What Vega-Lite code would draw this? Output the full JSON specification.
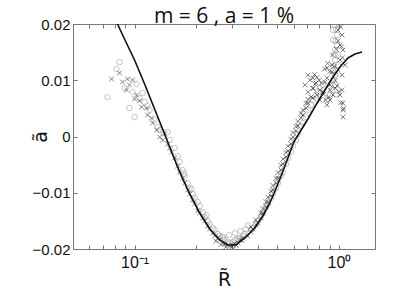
{
  "$schema": "https://vega.github.io/schema/vega-lite/v6.json",
  "width": 302,
  "height": 225,
  "autosize": "none",
  "padding": {"left": 73, "top": 24, "right": 24, "bottom": 48},
  "background": "white",
  "title": {"text": "m = 6 , a = 1 %", "font": "Open Sans", "fontSize": 21, "fontWeight": "normal", "color": "#111", "offset": -10, "anchor": "middle"},
  "config": {
    "view": {"stroke": null},
    "axis": {"domainColor": "#777", "tickColor": "#777", "labelColor": "#111", "titleColor": "#111", "labelFont": "Liberation Sans", "titleFont": "DejaVu Sans", "labelFontSize": 15, "titleFontSize": 19, "titleFontWeight": "normal", "grid": false, "tickSize": -4, "labelOverlap": false}
  },
  "datasets": {
    "curve": [
      {"R": 0.0825, "a": 0.0200}, {"R": 0.0893, "a": 0.01733}, {"R": 0.1, "a": 0.0136}, {"R": 0.112, "a": 0.00933},
      {"R": 0.1253, "a": 0.00489}, {"R": 0.1403, "a": 0.00044}, {"R": 0.1518, "a": -0.00276}, {"R": 0.1662, "a": -0.00631},
      {"R": 0.1861, "a": -0.01022}, {"R": 0.2083, "a": -0.0136}, {"R": 0.2332, "a": -0.01644}, {"R": 0.261, "a": -0.0184},
      {"R": 0.2857, "a": -0.01929}, {"R": 0.3127, "a": -0.01929}, {"R": 0.3461, "a": -0.01804}, {"R": 0.3875, "a": -0.01627},
      {"R": 0.4241, "a": -0.01413}, {"R": 0.459, "a": -0.01182}, {"R": 0.4911, "a": -0.00933}, {"R": 0.5255, "a": -0.00667},
      {"R": 0.5623, "a": -0.00382}, {"R": 0.6017, "a": -0.00098}, {"R": 0.6439, "a": 0.0008}, {"R": 0.7047, "a": 0.00311},
      {"R": 0.7712, "a": 0.0056}, {"R": 0.8538, "a": 0.00827}, {"R": 0.9346, "a": 0.01058}, {"R": 1.0113, "a": 0.01236},
      {"R": 1.1069, "a": 0.01396}, {"R": 1.198, "a": 0.01467}, {"R": 1.296, "a": 0.01502}
    ],
    "pts": [
      {"R": 0.0844, "a": 0.01324, "s": "o"}, {"R": 0.0816, "a": 0.012, "s": "o"}, {"R": 0.0737, "a": 0.00702, "s": "o"},
      {"R": 0.0945, "a": 0.00507, "s": "o"}, {"R": 0.1, "a": 0.00347, "s": "o"}, {"R": 0.1023, "a": 0.00933, "s": "o"},
      {"R": 0.1094, "a": 0.00773, "s": "o"}, {"R": 0.1058, "a": 0.00684, "s": "o"}, {"R": 0.0893, "a": 0.00862, "s": "o"},
      {"R": 0.1119, "a": 0.00613, "s": "o"}, {"R": 0.1184, "a": 0.00471, "s": "o"}, {"R": 0.1253, "a": 0.00293, "s": "o"},
      {"R": 0.1297, "a": 0.00169, "s": "o"}, {"R": 0.1158, "a": 0.00542, "s": "o"}, {"R": 0.0978, "a": 0.00791, "s": "o"},
      {"R": 0.1327, "a": 0.00116, "s": "o"}, {"R": 0.1372, "a": 0.0008, "s": "o"},
      {"R": 0.1452, "a": 0.0008, "s": "o"}, {"R": 0.1485, "a": -0.00062, "s": "o"}, {"R": 0.1571, "a": -0.00204, "s": "o"},
      {"R": 0.1625, "a": -0.00347, "s": "o"}, {"R": 0.1662, "a": -0.00453, "s": "o"}, {"R": 0.1719, "a": -0.00596, "s": "o"},
      {"R": 0.1758, "a": -0.00702, "s": "o"}, {"R": 0.1819, "a": -0.00827, "s": "o"}, {"R": 0.186, "a": -0.00916, "s": "o"},
      {"R": 0.1924, "a": -0.01022, "s": "o"}, {"R": 0.1967, "a": -0.01093, "s": "o"}, {"R": 0.2035, "a": -0.01164, "s": "o"},
      {"R": 0.2083, "a": -0.01236, "s": "o"}, {"R": 0.2154, "a": -0.01342, "s": "o"}, {"R": 0.2203, "a": -0.01431, "s": "o"},
      {"R": 0.2279, "a": -0.01502, "s": "o"}, {"R": 0.2331, "a": -0.01556, "s": "o"}, {"R": 0.2412, "a": -0.01627, "s": "o"},
      {"R": 0.2467, "a": -0.01662, "s": "o"}, {"R": 0.2552, "a": -0.01733, "s": "o"}, {"R": 0.261, "a": -0.01769, "s": "o"},
      {"R": 0.27, "a": -0.01804, "s": "o"}, {"R": 0.2762, "a": -0.0184, "s": "o"}, {"R": 0.2857, "a": -0.01876, "s": "o"},
      {"R": 0.2922, "a": -0.01893, "s": "o"}, {"R": 0.3022, "a": -0.01876, "s": "o"}, {"R": 0.3091, "a": -0.0184, "s": "o"},
      {"R": 0.3197, "a": -0.01822, "s": "o"}, {"R": 0.327, "a": -0.01804, "s": "o"}, {"R": 0.3383, "a": -0.01769, "s": "o"},
      {"R": 0.346, "a": -0.01733, "s": "o"},
      {"R": 0.29, "a": -0.0175, "s": "o"}, {"R": 0.31, "a": -0.0172, "s": "o"}, {"R": 0.33, "a": -0.0168, "s": "o"},
      {"R": 0.35, "a": -0.0165, "s": "o"}, {"R": 0.27, "a": -0.0178, "s": "o"}, {"R": 0.36, "a": -0.0158, "s": "o"},
      {"R": 0.225, "a": -0.014, "s": "o"}, {"R": 0.19, "a": -0.0093, "s": "o"}, {"R": 0.175, "a": -0.0066, "s": "o"},
      {"R": 0.3704, "a": -0.01662, "s": "o"}, {"R": 0.3789, "a": -0.01627, "s": "o"}, {"R": 0.392, "a": -0.01556, "s": "o"},
      {"R": 0.401, "a": -0.01502, "s": "o"}, {"R": 0.4147, "a": -0.01431, "s": "o"}, {"R": 0.4244, "a": -0.0136, "s": "o"},
      {"R": 0.4389, "a": -0.01253, "s": "o"}, {"R": 0.449, "a": -0.012, "s": "o"}, {"R": 0.4644, "a": -0.01093, "s": "o"},
      {"R": 0.4751, "a": -0.01022, "s": "o"}, {"R": 0.4914, "a": -0.00916, "s": "o"}, {"R": 0.5027, "a": -0.00827, "s": "o"},
      {"R": 0.52, "a": -0.00702, "s": "o"}, {"R": 0.5319, "a": -0.00631, "s": "o"}, {"R": 0.5502, "a": -0.00489, "s": "o"},
      {"R": 0.5628, "a": -0.00382, "s": "o"}, {"R": 0.582, "a": -0.00276, "s": "o"}, {"R": 0.5953, "a": -0.00169, "s": "o"},
      {"R": 0.6158, "a": -0.00062, "s": "o"}, {"R": 0.6299, "a": 0.00044, "s": "o"}, {"R": 0.6515, "a": 0.00187, "s": "o"},
      {"R": 0.6664, "a": 0.0024, "s": "o"}, {"R": 0.6894, "a": 0.00347, "s": "o"}, {"R": 0.7051, "a": 0.00471, "s": "o"},
      {"R": 0.7294, "a": 0.0056, "s": "o"}, {"R": 0.746, "a": 0.00649, "s": "o"}, {"R": 0.7717, "a": 0.00738, "s": "o"},
      {"R": 0.7893, "a": 0.00791, "s": "o"}, {"R": 0.8074, "a": 0.00862, "s": "o"}, {"R": 0.8351, "a": 0.00916, "s": "o"},
      {"R": 0.9346, "a": 0.01893, "s": "o"}, {"R": 0.9346, "a": 0.01716, "s": "o"}, {"R": 0.9559, "a": 0.01982, "s": "o"},
      {"R": 0.9559, "a": 0.01538, "s": "o"}, {"R": 0.9559, "a": 0.0136, "s": "o"}, {"R": 0.9777, "a": 0.01804, "s": "o"},
      {"R": 0.9346, "a": 0.01182, "s": "o"}, {"R": 0.9346, "a": 0.01004, "s": "o"}, {"R": 0.924, "a": 0.00827, "s": "o"},
      {"R": 0.9777, "a": 0.01627, "s": "o"}, {"R": 0.9888, "a": 0.01449, "s": "o"}, {"R": 0.8733, "a": 0.00649, "s": "o"},
      {"R": 0.9559, "a": 0.00916, "s": "o"}, {"R": 0.9034, "a": 0.00738, "s": "o"}, {"R": 0.9888, "a": 0.01271, "s": "o"},
      {"R": 0.9559, "a": 0.01093, "s": "o"},
      {"R": 0.96, "a": 0.017, "s": "o"}, {"R": 0.97, "a": 0.019, "s": "o"}, {"R": 0.95, "a": 0.0145, "s": "o"},
      {"R": 0.94, "a": 0.0125, "s": "o"}, {"R": 0.96, "a": 0.011, "s": "o"}, {"R": 0.92, "a": 0.0095, "s": "o"},
      {"R": 0.97, "a": 0.0075, "s": "o"}, {"R": 0.99, "a": 0.02, "s": "o"},
      {"R": 0.0772, "a": 0.01022, "s": "x"}, {"R": 0.0844, "a": 0.01129, "s": "x"}, {"R": 0.0924, "a": 0.01022, "s": "x"},
      {"R": 0.0873, "a": 0.00969, "s": "x"}, {"R": 0.0914, "a": 0.00827, "s": "x"}, {"R": 0.1023, "a": 0.00738, "s": "x"},
      {"R": 0.1, "a": 0.00667, "s": "x"}, {"R": 0.1145, "a": 0.00507, "s": "x"}, {"R": 0.1082, "a": 0.00524, "s": "x"},
      {"R": 0.1158, "a": 0.00382, "s": "x"}, {"R": 0.1211, "a": 0.00329, "s": "x"}, {"R": 0.1225, "a": 0.0024, "s": "x"},
      {"R": 0.1282, "a": 0.00116, "s": "x"}, {"R": 0.1327, "a": -0.00009, "s": "x"}, {"R": 0.1372, "a": -0.00062, "s": "x"},
      {"R": 0.0945, "a": 0.00916, "s": "x"}, {"R": 0.1058, "a": 0.00631, "s": "x"}, {"R": 0.0978, "a": 0.01004, "s": "x"},
      {"R": 0.1403, "a": 0.00044, "s": "x"}, {"R": 0.1452, "a": -0.00133, "s": "x"}, {"R": 0.1485, "a": -0.00204, "s": "x"},
      {"R": 0.1519, "a": -0.00276, "s": "x"}, {"R": 0.1571, "a": -0.00382, "s": "x"}, {"R": 0.1625, "a": -0.00524, "s": "x"},
      {"R": 0.1662, "a": -0.00631, "s": "x"}, {"R": 0.1719, "a": -0.00738, "s": "x"}, {"R": 0.1758, "a": -0.00827, "s": "x"},
      {"R": 0.1819, "a": -0.00951, "s": "x"}, {"R": 0.186, "a": -0.01022, "s": "x"}, {"R": 0.1924, "a": -0.01129, "s": "x"},
      {"R": 0.1967, "a": -0.012, "s": "x"}, {"R": 0.2035, "a": -0.01324, "s": "x"}, {"R": 0.2083, "a": -0.0136, "s": "x"},
      {"R": 0.2154, "a": -0.01449, "s": "x"}, {"R": 0.2203, "a": -0.01502, "s": "x"}, {"R": 0.2279, "a": -0.01591, "s": "x"},
      {"R": 0.2331, "a": -0.01644, "s": "x"}, {"R": 0.2412, "a": -0.01716, "s": "x"}, {"R": 0.2467, "a": -0.01769, "s": "x"},
      {"R": 0.2552, "a": -0.01804, "s": "x"}, {"R": 0.261, "a": -0.0184, "s": "x"}, {"R": 0.27, "a": -0.01893, "s": "x"},
      {"R": 0.2762, "a": -0.01911, "s": "x"}, {"R": 0.2857, "a": -0.01929, "s": "x"}, {"R": 0.2922, "a": -0.01947, "s": "x"},
      {"R": 0.3022, "a": -0.01929, "s": "x"}, {"R": 0.3091, "a": -0.01911, "s": "x"}, {"R": 0.3197, "a": -0.01893, "s": "x"},
      {"R": 0.327, "a": -0.0184, "s": "x"}, {"R": 0.3383, "a": -0.01804, "s": "x"},
      {"R": 0.25, "a": -0.0186, "s": "x"}, {"R": 0.265, "a": -0.0192, "s": "x"}, {"R": 0.28, "a": -0.0196, "s": "x"},
      {"R": 0.3, "a": -0.0196, "s": "x"}, {"R": 0.315, "a": -0.0194, "s": "x"}, {"R": 0.335, "a": -0.0185, "s": "x"},
      {"R": 0.3581, "a": -0.01769, "s": "x"}, {"R": 0.3704, "a": -0.01698, "s": "x"}, {"R": 0.3789, "a": -0.01644, "s": "x"},
      {"R": 0.392, "a": -0.01573, "s": "x"}, {"R": 0.401, "a": -0.01538, "s": "x"}, {"R": 0.4147, "a": -0.01449, "s": "x"},
      {"R": 0.4244, "a": -0.0136, "s": "x"}, {"R": 0.4389, "a": -0.01253, "s": "x"}, {"R": 0.449, "a": -0.01164, "s": "x"},
      {"R": 0.4644, "a": -0.01058, "s": "x"}, {"R": 0.4751, "a": -0.00951, "s": "x"}, {"R": 0.4914, "a": -0.00827, "s": "x"},
      {"R": 0.5027, "a": -0.00738, "s": "x"}, {"R": 0.52, "a": -0.00596, "s": "x"}, {"R": 0.5319, "a": -0.00489, "s": "x"},
      {"R": 0.5502, "a": -0.00364, "s": "x"}, {"R": 0.5628, "a": -0.00258, "s": "x"}, {"R": 0.582, "a": -0.00133, "s": "x"},
      {"R": 0.5953, "a": -0.00009, "s": "x"}, {"R": 0.6158, "a": 0.00098, "s": "x"}, {"R": 0.6299, "a": 0.00187, "s": "x"},
      {"R": 0.6515, "a": 0.00329, "s": "x"}, {"R": 0.6664, "a": 0.00382, "s": "x"}, {"R": 0.6894, "a": 0.00507, "s": "x"},
      {"R": 0.7051, "a": 0.00596, "s": "x"},
      {"R": 0.3704, "a": -0.0161, "s": "x"}, {"R": 0.392, "a": -0.0148, "s": "x"}, {"R": 0.4147, "a": -0.0136, "s": "x"},
      {"R": 0.4389, "a": -0.0116, "s": "x"}, {"R": 0.4644, "a": -0.0097, "s": "x"}, {"R": 0.4914, "a": -0.0074, "s": "x"},
      {"R": 0.52, "a": -0.0051, "s": "x"}, {"R": 0.5502, "a": -0.0028, "s": "x"}, {"R": 0.582, "a": -0.0005, "s": "x"},
      {"R": 0.6158, "a": 0.0018, "s": "x"}, {"R": 0.6515, "a": 0.0041, "s": "x"}, {"R": 0.6894, "a": 0.0059, "s": "x"},
      {"R": 0.7294, "a": 0.007, "s": "x"}, {"R": 0.746, "a": 0.0085, "s": "x"}, {"R": 0.7717, "a": 0.0095, "s": "x"},
      {"R": 0.7051, "a": 0.0066, "s": "x"}, {"R": 0.6664, "a": 0.0047, "s": "x"}, {"R": 0.6299, "a": 0.0027, "s": "x"},
      {"R": 0.5953, "a": 0.0007, "s": "x"}, {"R": 0.5628, "a": -0.0017, "s": "x"}, {"R": 0.5319, "a": -0.004, "s": "x"},
      {"R": 0.5027, "a": -0.0064, "s": "x"}, {"R": 0.4751, "a": -0.0087, "s": "x"}, {"R": 0.449, "a": -0.0108, "s": "x"},
      {"R": 0.4244, "a": -0.0128, "s": "x"},
      {"R": 0.6813, "a": 0.00916, "s": "x"}, {"R": 0.7047, "a": 0.01093, "s": "x"}, {"R": 0.7208, "a": 0.01004, "s": "x"},
      {"R": 0.7047, "a": 0.00791, "s": "x"}, {"R": 0.7456, "a": 0.00862, "s": "x"}, {"R": 0.7456, "a": 0.0104, "s": "x"},
      {"R": 0.7626, "a": 0.00933, "s": "x"}, {"R": 0.7801, "a": 0.00738, "s": "x"}, {"R": 0.8069, "a": 0.00649, "s": "x"},
      {"R": 0.7456, "a": 0.00684, "s": "x"}, {"R": 0.8347, "a": 0.00791, "s": "x"}, {"R": 0.8733, "a": 0.01218, "s": "x"},
      {"R": 0.8733, "a": 0.0104, "s": "x"}, {"R": 0.9034, "a": 0.00827, "s": "x"}, {"R": 0.9034, "a": 0.00649, "s": "x"},
      {"R": 0.924, "a": 0.01147, "s": "x"}, {"R": 0.924, "a": 0.01271, "s": "x"}, {"R": 0.8733, "a": 0.0056, "s": "x"},
      {"R": 0.9346, "a": 0.00738, "s": "x"}, {"R": 0.9559, "a": 0.00862, "s": "x"}, {"R": 0.9888, "a": 0.01893, "s": "x"},
      {"R": 1.0113, "a": 0.01627, "s": "x"}, {"R": 1.0113, "a": 0.0136, "s": "x"}, {"R": 1.0344, "a": 0.01093, "s": "x"},
      {"R": 1.0344, "a": 0.01804, "s": "x"}, {"R": 1.0344, "a": 0.00827, "s": "x"}, {"R": 1.0462, "a": 0.01538, "s": "x"},
      {"R": 1.0462, "a": 0.00596, "s": "x"}, {"R": 1.0462, "a": 0.00471, "s": "x"}, {"R": 1.0462, "a": 0.00347, "s": "x"},
      {"R": 1.0113, "a": 0.00738, "s": "x"}, {"R": 0.9888, "a": 0.01182, "s": "x"}, {"R": 1.07, "a": 0.01271, "s": "x"},
      {"R": 0.9034, "a": 0.00916, "s": "x"}, {"R": 0.8538, "a": 0.00969, "s": "x"}, {"R": 0.8069, "a": 0.00827, "s": "x"},
      {"R": 0.93, "a": 0.0145, "s": "x"}, {"R": 0.95, "a": 0.0125, "s": "x"}, {"R": 0.97, "a": 0.0155, "s": "x"},
      {"R": 0.99, "a": 0.017, "s": "x"}, {"R": 1.02, "a": 0.0195, "s": "x"}, {"R": 1.03, "a": 0.016, "s": "x"},
      {"R": 1.04, "a": 0.014, "s": "x"}, {"R": 0.96, "a": 0.01, "s": "x"}, {"R": 0.98, "a": 0.009, "s": "x"},
      {"R": 1.0, "a": 0.008, "s": "x"}, {"R": 1.02, "a": 0.006, "s": "x"}, {"R": 1.05, "a": 0.005, "s": "x"},
      {"R": 0.78, "a": 0.0105, "s": "x"}, {"R": 0.8, "a": 0.01, "s": "x"}, {"R": 0.82, "a": 0.0095, "s": "x"},
      {"R": 0.76, "a": 0.011, "s": "x"}, {"R": 0.85, "a": 0.012, "s": "x"}, {"R": 0.88, "a": 0.013, "s": "x"},
      {"R": 0.9, "a": 0.0115, "s": "x"}, {"R": 0.84, "a": 0.0075, "s": "x"}, {"R": 0.86, "a": 0.0065, "s": "x"},
      {"R": 0.89, "a": 0.007, "s": "x"}
    ]
  },
  "layer": [
    {
      "data": {"name": "pts"},
      "mark": {"type": "point", "filled": false, "strokeWidth": 0.8, "clip": true},
      "encoding": {
        "x": {"field": "R", "type": "quantitative", "scale": {"type": "log", "domain": [0.05, 1.5], "nice": false},
          "axis": {"orient": "bottom", "title": "R̃", "titlePadding": 0, "labelPadding": 9, "values": [0.05, 0.06, 0.07, 0.08, 0.09, 0.1, 0.2, 0.3, 0.4, 0.5, 0.6, 0.7, 0.8, 0.9, 1],
            "labelExpr": "datum.value == 0.1 ? '10⁻¹' : (datum.value == 1 ? '10⁰' : '')", "labelFontSize": 16}},
        "y": {"field": "a", "type": "quantitative", "scale": {"domain": [-0.02, 0.02], "nice": false, "zero": false},
          "axis": {"orient": "left", "title": "ã", "titleAngle": 270, "titlePadding": -18, "labelPadding": 7, "values": [-0.02, -0.01, 0, 0.01, 0.02], "format": "~g"}},
        "shape": {"field": "s", "type": "nominal", "scale": {"domain": ["o", "x"], "range": ["circle", "M-1,-1L1,1M-1,1L1,-1"]}, "legend": null},
        "size": {"field": "s", "type": "nominal", "scale": {"domain": ["o", "x"], "range": [30, 22]}, "legend": null},
        "stroke": {"field": "s", "type": "nominal", "scale": {"domain": ["o", "x"], "range": ["#9a9a9a", "#1e1e1e"]}, "legend": null}
      }
    },
    {
      "data": {"name": "curve"},
      "mark": {"type": "line", "color": "#111", "strokeWidth": 1.6, "clip": true},
      "encoding": {
        "x": {"field": "R", "type": "quantitative", "scale": {"type": "log", "domain": [0.05, 1.5], "nice": false},
          "axis": {"orient": "top", "title": null, "labels": false, "values": [0.05, 0.06, 0.07, 0.08, 0.09, 0.1, 0.2, 0.3, 0.4, 0.5, 0.6, 0.7, 0.8, 0.9, 1]}},
        "y": {"field": "a", "type": "quantitative", "scale": {"domain": [-0.02, 0.02], "nice": false, "zero": false},
          "axis": {"orient": "right", "title": null, "labels": false, "values": [-0.02, -0.01, 0, 0.01, 0.02]}}
      }
    }
  ],
  "resolve": {"axis": {"x": "independent", "y": "independent"}}
}
